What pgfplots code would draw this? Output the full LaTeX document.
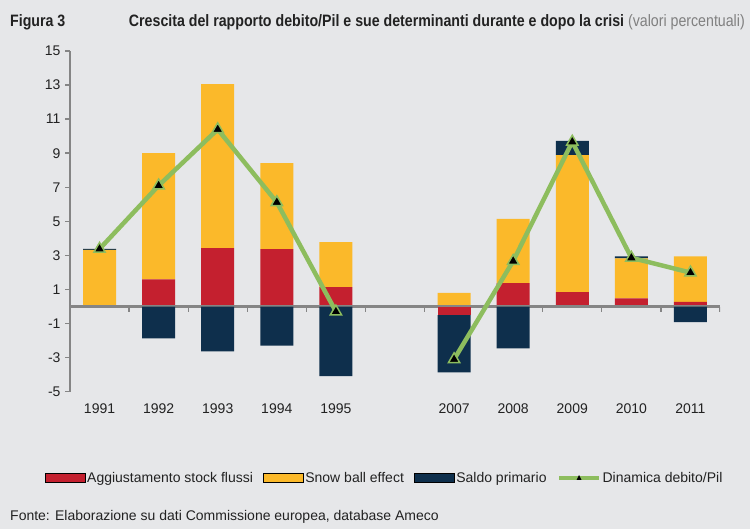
\documentclass[border=0pt]{standalone}
\usepackage{pgfplots}
\pgfplotsset{compat=1.18}
\usepackage{pgfplotstable}
\usepackage{fontspec}
\setmainfont{Liberation Sans}
\newfontfamily\narrowfont{Liberation Sans}[FakeStretch=0.86]

\definecolor{bg}{HTML}{E6E7E9}
\definecolor{myred}{HTML}{C4202F}
\definecolor{myyel}{HTML}{FBB92A}
\definecolor{mynav}{HTML}{0E2F4C}
\definecolor{mygreen}{HTML}{8DBD5E}
\definecolor{axisgray}{HTML}{858585}
\definecolor{txt}{HTML}{222222}

% positive parts of the components
\pgfplotstableread{
x   red   yel   nav
0   0.00  3.32  0.06
1   1.60  7.40  0.00
2   3.43  9.62  0.00
3   3.37  5.05  0.00
4   1.14  2.64  0.00
6   0.00  0.80  0.00
7   1.38  3.77  0.00
8   0.85  8.04  0.84
9   0.48  2.35  0.11
10  0.27  2.67  0.00
}\postab

% negative parts of the components
\pgfplotstableread{
x   red   yel   nav
0   0.00  0.00  0.00
1   0.00  0.00 -1.87
2   0.00  0.00 -2.63
3   0.00  0.00 -2.30
4   0.00  0.00 -4.08
6  -0.50  0.00 -3.36
7   0.00  0.00 -2.45
8   0.00  0.00  0.00
9   0.00  0.00  0.00
10  0.00  0.00 -0.92
}\negtab

% Dinamica debito/Pil
\pgfplotstableread{
x   y
0   3.38
1   7.10
2   10.40
3   6.12
4   -0.30
5   nan
6   -3.10
7   2.67
8   9.67
9   2.86
10  1.99
}\linetab

\pgfplotsset{
  mybase/.style={
    at={(70pt,137.3pt)}, anchor=south west,
    scale only axis, width=650pt, height=340.7pt,
    xmin=-0.5, xmax=10.5, ymin=-5, ymax=15,
  },
  barlegend/.style={legend image code/.code={%
      \fill (0pt,-4.5pt) rectangle (40pt,4.5pt);}},
}

\begin{document}
\begin{tikzpicture}[x=1pt,y=1pt]
\fill[bg] (0,0) rectangle (750,529);
\useasboundingbox (0,0) rectangle (750,529);

% title
\node[anchor=west, inner sep=0pt, text=txt,
      font=\narrowfont\bfseries\fontsize{16.5}{19}\selectfont] at (10,507) {Figura 3};
\node[anchor=east, inner sep=0pt, text=txt,
      font=\narrowfont\fontsize{16.5}{19}\selectfont] at (745,507)
  {\textbf{Crescita del rapporto debito/Pil e sue determinanti durante e dopo la crisi} \textcolor{gray}{(valori percentuali)}};

% source
\node[anchor=west, inner sep=0pt, text=txt, font=\fontsize{14}{16}\selectfont]
  at (10,12) {Fonte: Elaborazione su dati Commissione europea, database Ameco};

% axis 1: positive parts, axes and tick labels
\begin{axis}[mybase,
  ybar stacked, bar width=33pt,
  axis y line*=left, axis x line*=bottom,
  x axis line style={draw=none},
  y axis line style={axisgray, line width=2.5pt},
  ytick={-5,-3,...,15},
  xtick={0,1,2,3,4,6,7,8,9,10},
  xticklabels={1991,1992,1993,1994,1995,2007,2008,2009,2010,2011},
  major x tick style={draw=none},
  major y tick style={axisgray, line width=1.5pt},
  tick align=outside, major tick length=5pt,
  /pgf/number format/assume math mode=true,
  ticklabel style={font=\fontsize{14}{16}\selectfont, text=txt},
  yticklabel style={xshift=-1pt},
  xticklabel style={yshift=-3pt},
]
\addplot[fill=myred, draw=none] table[x=x, y=red] {\postab};
\addplot[fill=myyel, draw=none] table[x=x, y=yel] {\postab};
\addplot[fill=mynav, draw=none] table[x=x, y=nav] {\postab};
\end{axis}

% axis 2: negative parts and zero line
\begin{axis}[mybase, hide axis, ybar stacked, bar width=33pt]
\addplot[fill=myred, draw=none] table[x=x, y=red] {\negtab};
\addplot[fill=myyel, draw=none] table[x=x, y=yel] {\negtab};
\addplot[fill=mynav, draw=none] table[x=x, y=nav] {\negtab};
\draw[axisgray, line width=2.2pt] (axis cs:-0.5,0) -- (axis cs:10.5,0);
\pgfplotsinvokeforeach{0.5,1.5,2.5,3.5,4.5,5.5,6.5,7.5,8.5,9.5,10.5}{
  \draw[axisgray, line width=1.3pt] (axis cs:#1,0) -- ++(0pt,-5pt);
}
\end{axis}

% axis 3: line and legend
\begin{axis}[mybase, hide axis, unbounded coords=jump,
  legend columns=-1,
  legend style={at={(0.484,-0.253)}, anchor=center, draw=none, fill=none,
    font=\fontsize{14}{16}\selectfont, text=txt,
    /tikz/every even column/.append style={column sep=9pt},
    nodes={inner sep=1.5pt}},
]
\addlegendimage{barlegend, fill=myred}
\addlegendentry{Aggiustamento stock flussi}
\addlegendimage{barlegend, fill=myyel}
\addlegendentry{Snow ball effect}
\addlegendimage{barlegend, fill=mynav}
\addlegendentry{Saldo primario}
\addplot[mygreen, line width=4.5pt, mark=triangle*, mark size=6.5pt,
  mark options={fill=black, draw=mygreen, line width=1.5pt},
  legend image code/.code={%
    \path[draw=mygreen, line width=4pt] (0pt,0pt) -- (40pt,0pt);
    \path[fill=black, draw=none] (17.5pt,-2pt) -- (22.5pt,-2pt) -- (20pt,2.8pt) -- cycle;}]
  table[x=x, y=y] {\linetab};
\addlegendentry{Dinamica debito/Pil}
\end{axis}
\end{tikzpicture}
\end{document}
